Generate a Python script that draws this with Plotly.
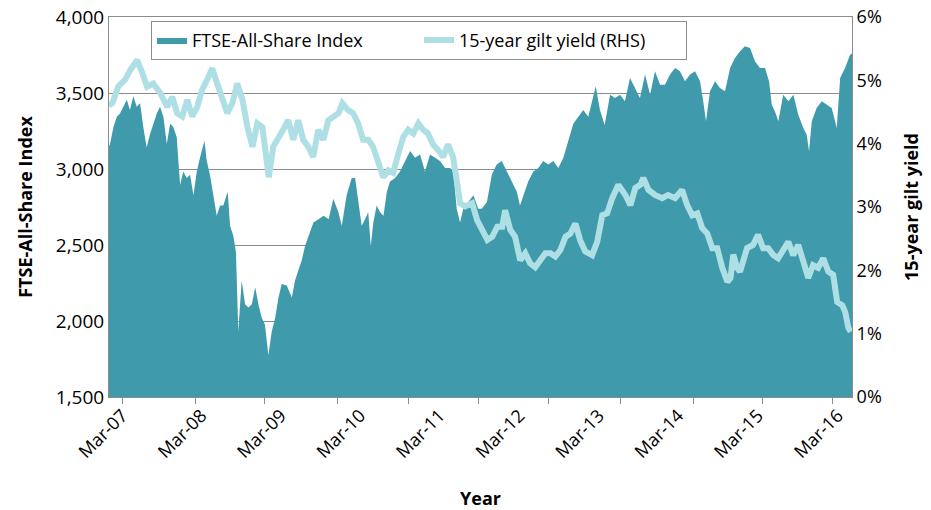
import plotly.graph_objects as go

# ---------------- data ----------------
ftse_dates = [
    "2007-02-10", "2007-02-15", "2007-03-03", "2007-03-19", "2007-04-03", "2007-04-19", "2007-05-05",
    "2007-05-20", "2007-06-05", "2007-06-21", "2007-07-07", "2007-07-22", "2007-08-07", "2007-08-23",
    "2007-09-08", "2007-09-24", "2007-10-09", "2007-10-25", "2007-11-10", "2007-11-26", "2007-12-11",
    "2007-12-27", "2008-01-12", "2008-01-27", "2008-02-12", "2008-02-28", "2008-03-15", "2008-03-31",
    "2008-04-15", "2008-05-06", "2008-05-17", "2008-06-01", "2008-06-17", "2008-07-03", "2008-07-19",
    "2008-08-03", "2008-08-24", "2008-09-04", "2008-09-20", "2008-10-02", "2008-10-13", "2008-10-29",
    "2008-11-14", "2008-11-30", "2008-12-16", "2009-01-01", "2009-01-16", "2009-02-01", "2009-02-16",
    "2009-03-04", "2009-03-20", "2009-04-05", "2009-04-21", "2009-05-06", "2009-05-30", "2009-06-23",
    "2009-07-08", "2009-07-24", "2009-08-09", "2009-08-24", "2009-09-09", "2009-10-03", "2009-10-27",
    "2009-11-20", "2009-12-14", "2010-01-05", "2010-01-29", "2010-02-14", "2010-03-09", "2010-04-02",
    "2010-04-18", "2010-05-03", "2010-05-19", "2010-06-04", "2010-06-19", "2010-07-01", "2010-07-13",
    "2010-07-29", "2010-08-14", "2010-08-30", "2010-09-15", "2010-09-30", "2010-10-24", "2010-11-16",
    "2010-12-10", "2011-01-03", "2011-01-26", "2011-02-19", "2011-03-14", "2011-04-07", "2011-05-01",
    "2011-05-24", "2011-06-17", "2011-07-11", "2011-07-26", "2011-08-11", "2011-08-27", "2011-09-11",
    "2011-10-05", "2011-10-29", "2011-11-21", "2011-12-07", "2012-01-01", "2012-01-24", "2012-02-16",
    "2012-03-11", "2012-04-04", "2012-04-28", "2012-05-21", "2012-06-05", "2012-06-21", "2012-07-14",
    "2012-08-07", "2012-08-31", "2012-09-23", "2012-10-17", "2012-11-10", "2012-12-03", "2012-12-27",
    "2013-01-20", "2013-02-12", "2013-03-08", "2013-03-31", "2013-04-24", "2013-05-10", "2013-05-29",
    "2013-06-18", "2013-07-10", "2013-08-05", "2013-08-28", "2013-09-21", "2013-10-14", "2013-11-07",
    "2013-12-01", "2013-12-24", "2014-01-17", "2014-02-10", "2014-03-05", "2014-03-29", "2014-04-21",
    "2014-05-15", "2014-06-08", "2014-07-01", "2014-07-25", "2014-08-18", "2014-09-10", "2014-10-04",
    "2014-10-19", "2014-11-01", "2014-11-20", "2014-12-14", "2015-01-06", "2015-01-30", "2015-02-23",
    "2015-03-18", "2015-04-11", "2015-05-04", "2015-05-28", "2015-06-21", "2015-07-14", "2015-08-07",
    "2015-08-26", "2015-09-08", "2015-09-23", "2015-10-09", "2015-11-01", "2015-11-25", "2015-12-19",
    "2016-01-11", "2016-02-04", "2016-02-20", "2016-03-02", "2016-03-15", "2016-04-07", "2016-05-01",
    "2016-05-25", "2016-06-17", "2016-07-11", "2016-07-27", "2016-08-19", "2016-09-12", "2016-09-21",
]
ftse_values = [
    3150, 3164, 3276, 3343, 3365, 3410, 3455,
    3388, 3478, 3410, 3433, 3276, 3141, 3231,
    3298, 3365, 3410, 3343, 3164, 3298, 3276,
    3209, 2895, 2984, 2940, 2962, 2827, 2984,
    3074, 3186, 3052, 2962, 2827, 2693, 2760,
    2760, 2850, 2626, 2558, 2450, 1931, 2267,
    2110, 2088, 2110, 2222, 2110, 2020, 1975,
    1774, 1931, 2020, 2155, 2244, 2233, 2155,
    2267, 2334, 2401, 2491, 2558, 2648, 2670,
    2693, 2670, 2805, 2715, 2626, 2827, 2940,
    2940, 2783, 2626, 2670, 2715, 2491, 2648,
    2760, 2715, 2693, 2850, 2917, 2940, 2984,
    3052, 3119, 3074, 3096, 2984, 3096, 3074,
    3052, 3007, 3007, 2984, 2738, 2648, 2738,
    2783, 2827, 2738, 2738, 2783, 2962, 3029,
    3052, 2984, 2917, 2850, 2760, 2827, 2917,
    2984, 3007, 3052, 3029, 3052, 3007, 3074,
    3186, 3298, 3343, 3388, 3343, 3433, 3545,
    3388, 3290, 3489, 3467, 3489, 3445, 3599,
    3533, 3467, 3621, 3489, 3643, 3555, 3555,
    3621, 3664, 3643, 3577, 3621, 3643, 3577,
    3445, 3314, 3511, 3577, 3533, 3511, 3664,
    3730, 3774, 3807, 3796, 3708, 3664, 3664,
    3577, 3423, 3379, 3314, 3489, 3445, 3489,
    3357, 3270, 3226, 3116, 3314, 3401, 3445,
    3423, 3401, 3270, 3599, 3664, 3752, 3760,
]

gilt_dates = [
    "2007-02-10", "2007-02-26", "2007-03-25", "2007-04-27", "2007-05-21", "2007-06-23", "2007-07-17",
    "2007-08-09", "2007-09-07", "2007-10-10", "2007-11-12", "2007-12-06", "2007-12-29", "2008-01-22",
    "2008-02-15", "2008-03-09", "2008-04-02", "2008-04-25", "2008-05-19", "2008-06-12", "2008-07-05",
    "2008-07-29", "2008-08-22", "2008-09-15", "2008-10-08", "2008-11-02", "2008-11-25", "2008-12-19",
    "2009-01-11", "2009-02-04", "2009-02-28", "2009-03-06", "2009-03-27", "2009-04-20", "2009-05-13",
    "2009-06-06", "2009-06-30", "2009-07-23", "2009-08-16", "2009-09-09", "2009-10-02", "2009-10-26",
    "2009-11-19", "2009-12-12", "2010-01-05", "2010-01-29", "2010-02-17", "2010-03-16", "2010-04-09",
    "2010-05-02", "2010-05-26", "2010-06-19", "2010-07-12", "2010-08-05", "2010-08-29", "2010-09-22",
    "2010-10-15", "2010-11-08", "2010-12-02", "2010-12-25", "2011-01-18", "2011-02-11", "2011-03-05",
    "2011-03-28", "2011-04-21", "2011-05-15", "2011-06-08", "2011-07-01", "2011-07-25", "2011-08-13",
    "2011-08-27", "2011-09-20", "2011-10-23", "2011-11-16", "2011-12-10", "2012-01-03", "2012-01-26",
    "2012-02-19", "2012-03-13", "2012-03-27", "2012-04-20", "2012-05-13", "2012-06-06", "2012-06-30",
    "2012-07-23", "2012-08-16", "2012-09-09", "2012-10-03", "2012-10-27", "2012-11-19", "2012-12-13",
    "2013-01-06", "2013-01-29", "2013-02-22", "2013-03-16", "2013-04-09", "2013-05-12", "2013-06-05",
    "2013-06-29", "2013-07-22", "2013-08-15", "2013-09-13", "2013-10-16", "2013-11-09", "2013-12-02",
    "2013-12-26", "2014-01-09", "2014-02-02", "2014-03-05", "2014-04-08", "2014-05-06", "2014-06-08",
    "2014-07-11", "2014-08-04", "2014-08-28", "2014-09-21", "2014-10-14", "2014-11-07", "2014-12-01",
    "2014-12-24", "2015-01-17", "2015-02-10", "2015-02-25", "2015-03-10", "2015-03-28", "2015-04-11",
    "2015-05-14", "2015-06-11", "2015-07-05", "2015-07-29", "2015-08-22", "2015-09-15", "2015-10-08",
    "2015-11-01", "2015-11-25", "2015-12-18", "2016-01-11", "2016-02-04", "2016-02-27", "2016-03-21",
    "2016-04-14", "2016-05-08", "2016-06-01", "2016-06-24", "2016-07-13", "2016-08-06", "2016-08-20",
    "2016-09-04", "2016-09-15",
]
gilt_values = [
    4.60, 4.64, 4.90, 5.01, 5.16, 5.32, 5.12,
    4.90, 4.95, 4.80, 4.58, 4.74, 4.48, 4.43,
    4.69, 4.43, 4.58, 4.85, 5.01, 5.19, 4.95,
    4.74, 4.48, 4.64, 4.95, 4.69, 4.26, 3.95,
    4.32, 4.26, 3.54, 3.47, 3.95, 4.11, 4.22,
    4.37, 4.06, 4.37, 4.06, 3.95, 3.79, 4.22,
    4.06, 4.37, 4.42, 4.48, 4.64, 4.53, 4.48,
    4.32, 4.06, 4.06, 3.95, 3.74, 3.47, 3.58,
    3.54, 3.84, 4.11, 4.22, 4.16, 4.32, 4.22,
    4.16, 3.99, 3.90, 3.79, 3.99, 3.79, 3.38,
    3.06, 3.01, 3.06, 2.79, 2.64, 2.48, 2.53,
    2.69, 2.69, 2.95, 2.64, 2.53, 2.16, 2.27,
    2.11, 2.05, 2.16, 2.27, 2.27, 2.22, 2.32,
    2.53, 2.58, 2.74, 2.48, 2.30, 2.24, 2.45,
    2.87, 2.90, 3.14, 3.35, 3.19, 3.03, 3.30,
    3.35, 3.46, 3.27, 3.19, 3.14, 3.19, 3.14,
    3.27, 3.03, 2.87, 2.90, 2.67, 2.58, 2.35,
    2.35, 2.04, 1.82, 1.88, 2.25, 2.04, 1.98,
    2.35, 2.40, 2.56, 2.35, 2.35, 2.24, 2.19,
    2.30, 2.45, 2.24, 2.40, 2.14, 1.88, 2.08,
    2.04, 2.19, 1.98, 1.93, 1.50, 1.45, 1.34,
    1.09, 1.03,
]

x_range = ["2007-02-10", "2016-09-21"]
label_dates = ["2007-04-14", "2008-04-22", "2009-05-02", "2010-05-12", "2011-05-23",
               "2012-06-02", "2013-06-13", "2014-06-23", "2015-07-04", "2016-07-16"]
label_text = ["Mar-07", "Mar-08", "Mar-09", "Mar-10", "Mar-11",
              "Mar-12", "Mar-13", "Mar-14", "Mar-15", "Mar-16"]
tick_mark_dates = ["2007-04-17", "2008-03-27", "2009-02-16", "2010-01-23", "2010-12-24",
                   "2011-11-20", "2012-10-20", "2013-09-25", "2014-09-01", "2015-07-24", "2016-06-19"]
left_ticks = [1500, 2000, 2500, 3000, 3500, 4000]
right_ticks = [0, 1, 2, 3, 4, 5, 6]
right_tick_text = ["0%", "1%", "2%", "3%", "4%", "5%", "6%"]

# ---------------- styling ----------------
TEAL = "rgb(63,154,171)"
LIGHT = "rgb(174,223,229)"
GRID = "rgb(140,140,140)"
FONT = "Open Sans"
FS = 18

fig = go.Figure()
fig.add_trace(go.Scatter(
    x=ftse_dates, y=ftse_values, name="FTSE-All-Share Index",
    mode="lines", fill="tozeroy", fillcolor=TEAL,
    line=dict(width=0, color=TEAL),
))
fig.add_trace(go.Scatter(
    x=gilt_dates, y=gilt_values, name="15-year gilt yield (RHS)",
    mode="lines", line=dict(width=6, color=LIGHT), yaxis="y2",
))
# helper trace so the tick-mark axis is drawn
fig.add_trace(go.Scatter(
    x=x_range, y=[None, None], xaxis="x2", yaxis="y",
    showlegend=False, hoverinfo="skip", mode="lines",
))

fig.update_layout(
    width=931, height=510,
    margin=dict(l=109, r=79, t=17, b=113),
    paper_bgcolor="white", plot_bgcolor="white",
    font=dict(family=FONT, size=FS, color="black"),
    showlegend=True,
    legend=dict(
        orientation="h", x=0.0565, y=0.99, xanchor="left", yanchor="top",
        bordercolor=GRID, borderwidth=1, bgcolor="white",
        font=dict(family=FONT, size=FS), entrywidth=222,
    ),
    xaxis=dict(
        type="date", range=x_range, automargin=False,
        tickmode="array", tickvals=label_dates, ticktext=label_text,
        tickangle=-45, ticks="", showgrid=False,
        showline=True, linecolor=GRID, linewidth=1, mirror=True,
        title=dict(text="<b>Year</b>", standoff=30, font=dict(size=FS)),
        tickfont=dict(size=FS),
    ),
    xaxis2=dict(
        type="date", range=x_range, overlaying="x", anchor="y", side="bottom",
        automargin=False,
        tickmode="array", tickvals=tick_mark_dates, ticks="outside", ticklen=6,
        tickcolor=GRID, tickwidth=1, showticklabels=False, showgrid=False, showline=False,
    ),
    yaxis=dict(
        range=[1500, 4000], tickmode="array", tickvals=left_ticks, tickformat=",",
        automargin=False, ticklabeloverflow="allow",
        showgrid=True, gridcolor=GRID, gridwidth=1,
        showline=True, linecolor=GRID, linewidth=1, ticks="",
        title=dict(text="<b>FTSE-All-Share Index</b>", standoff=18, font=dict(size=FS)),
        tickfont=dict(size=FS + 1), zeroline=False,
    ),
    yaxis2=dict(
        range=[0, 6], overlaying="y", side="right", tickmode="array", tickvals=right_ticks,
        ticktext=right_tick_text, showgrid=False, zeroline=False,
        automargin=False, ticklabeloverflow="allow",
        showline=True, linecolor=GRID, linewidth=1, ticks="",
        title=dict(text="<b>15-year gilt yield</b>", standoff=24, font=dict(size=FS)),
        tickfont=dict(size=FS),
    ),
)

# remove the default page margin so the figure sits at the window's top-left corner
fig.write_html(
    "out.html",
    config={"displayModeBar": False},
    post_script="document.body.style.margin='0';",
)
